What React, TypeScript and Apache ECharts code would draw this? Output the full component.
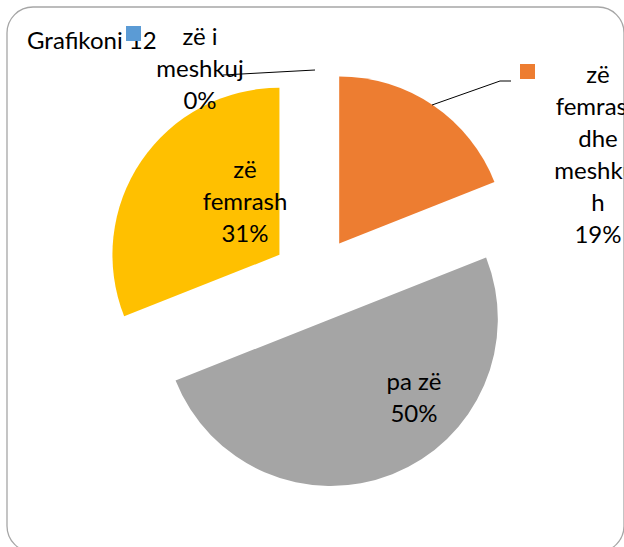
import React, { useEffect, useRef } from "react";
import * as echarts from "echarts";

const categories = ["zë i meshkuj", "zë femrash dhe meshkujh", "pa zë", "zë femrash"];
const labelLines = ["zë i\nmeshkuj", "zë\nfemrash\ndhe\nmeshkuj\nh", "pa zë", "zë\nfemrash"];
const values = [0, 19, 50, 31];
const colors = ["#5B9BD5", "#ED7D31", "#A5A5A5", "#FFC000"];
const titleText = "Grafikoni 12";

const FONT = "Lato, 'Open Sans', sans-serif";

// label placements (center x, top y), leader lines and legend keys
const labelPos = [
  { x: 200, y: 19 },
  { x: 598, y: 57 },
  { x: 414, y: 364 },
  { x: 245, y: 152 },
];
const leaderLines: (number[][] | null)[] = [
  [[315, 70], [223, 75]],
  [[432, 105], [500, 81], [511, 81]],
  null,
  null,
];
const keyPos = [
  { x: 126, y: 26 },
  { x: 520, y: 64 },
];

export default function App() {
  const ref = useRef<HTMLDivElement>(null);
  useEffect(() => {
    if (!ref.current) return;
    const chart = echarts.init(ref.current, undefined, { renderer: "svg" });
    const sum = values.reduce((a, b) => a + b, 0);
    const labelGraphics = categories.map((_, i) => ({
      type: "text",
      z: 100,
      style: {
        text: `${labelLines[i]}\n${Math.round((values[i] / sum) * 100)}%`,
        x: labelPos[i].x,
        y: labelPos[i].y,
        align: "center",
        verticalAlign: "top",
        fontFamily: FONT,
        fontSize: 24,
        lineHeight: 32,
        fill: "#000",
      },
    }));
    const lineGraphics = leaderLines
      .filter((l) => l !== null)
      .map((pts) => ({
        type: "polyline",
        z: 90,
        shape: { points: pts },
        style: { stroke: "#000", lineWidth: 1, fill: "none" },
      }));
    chart.setOption({
      animation: false,
      title: {
        text: titleText,
        left: 27,
        top: 27,
        padding: 0,
        textStyle: { fontFamily: FONT, fontSize: 24, fontWeight: "normal", color: "#000", lineHeight: 24 },
      },
      graphic: [
        {
          type: "rect",
          shape: { x: 7, y: 7, width: 617, height: 545, r: 26 },
          style: { fill: "none", stroke: "#A6A6A6", lineWidth: 1.3 },
          z: -1,
        },
        ...lineGraphics,
        ...labelGraphics,
        ...keyPos.map((p, i) => ({
          type: "rect",
          shape: { x: p.x, y: p.y, width: 15, height: 15 },
          style: { fill: colors[i] },
          z: 110,
        })),
      ],
      series: [
        {
          type: "pie",
          center: [315, 279],
          radius: 167,
          startAngle: 90,
          clockwise: true,
          selectedMode: "multiple",
          selectedOffset: 43,
          avoidLabelOverlap: false,
          emphasis: { disabled: true },
          label: { show: false },
          labelLine: { show: false },
          data: categories.map((name, i) => ({
            name,
            value: values[i],
            selected: true,
            itemStyle: { color: colors[i] },
          })),
        },
      ],
    });
    return () => chart.dispose();
  }, []);
  return (
    <div
      ref={ref}
      style={{ position: "fixed", left: 0, top: 0, width: 624, height: 547, background: "#fff" }}
    />
  );
}
